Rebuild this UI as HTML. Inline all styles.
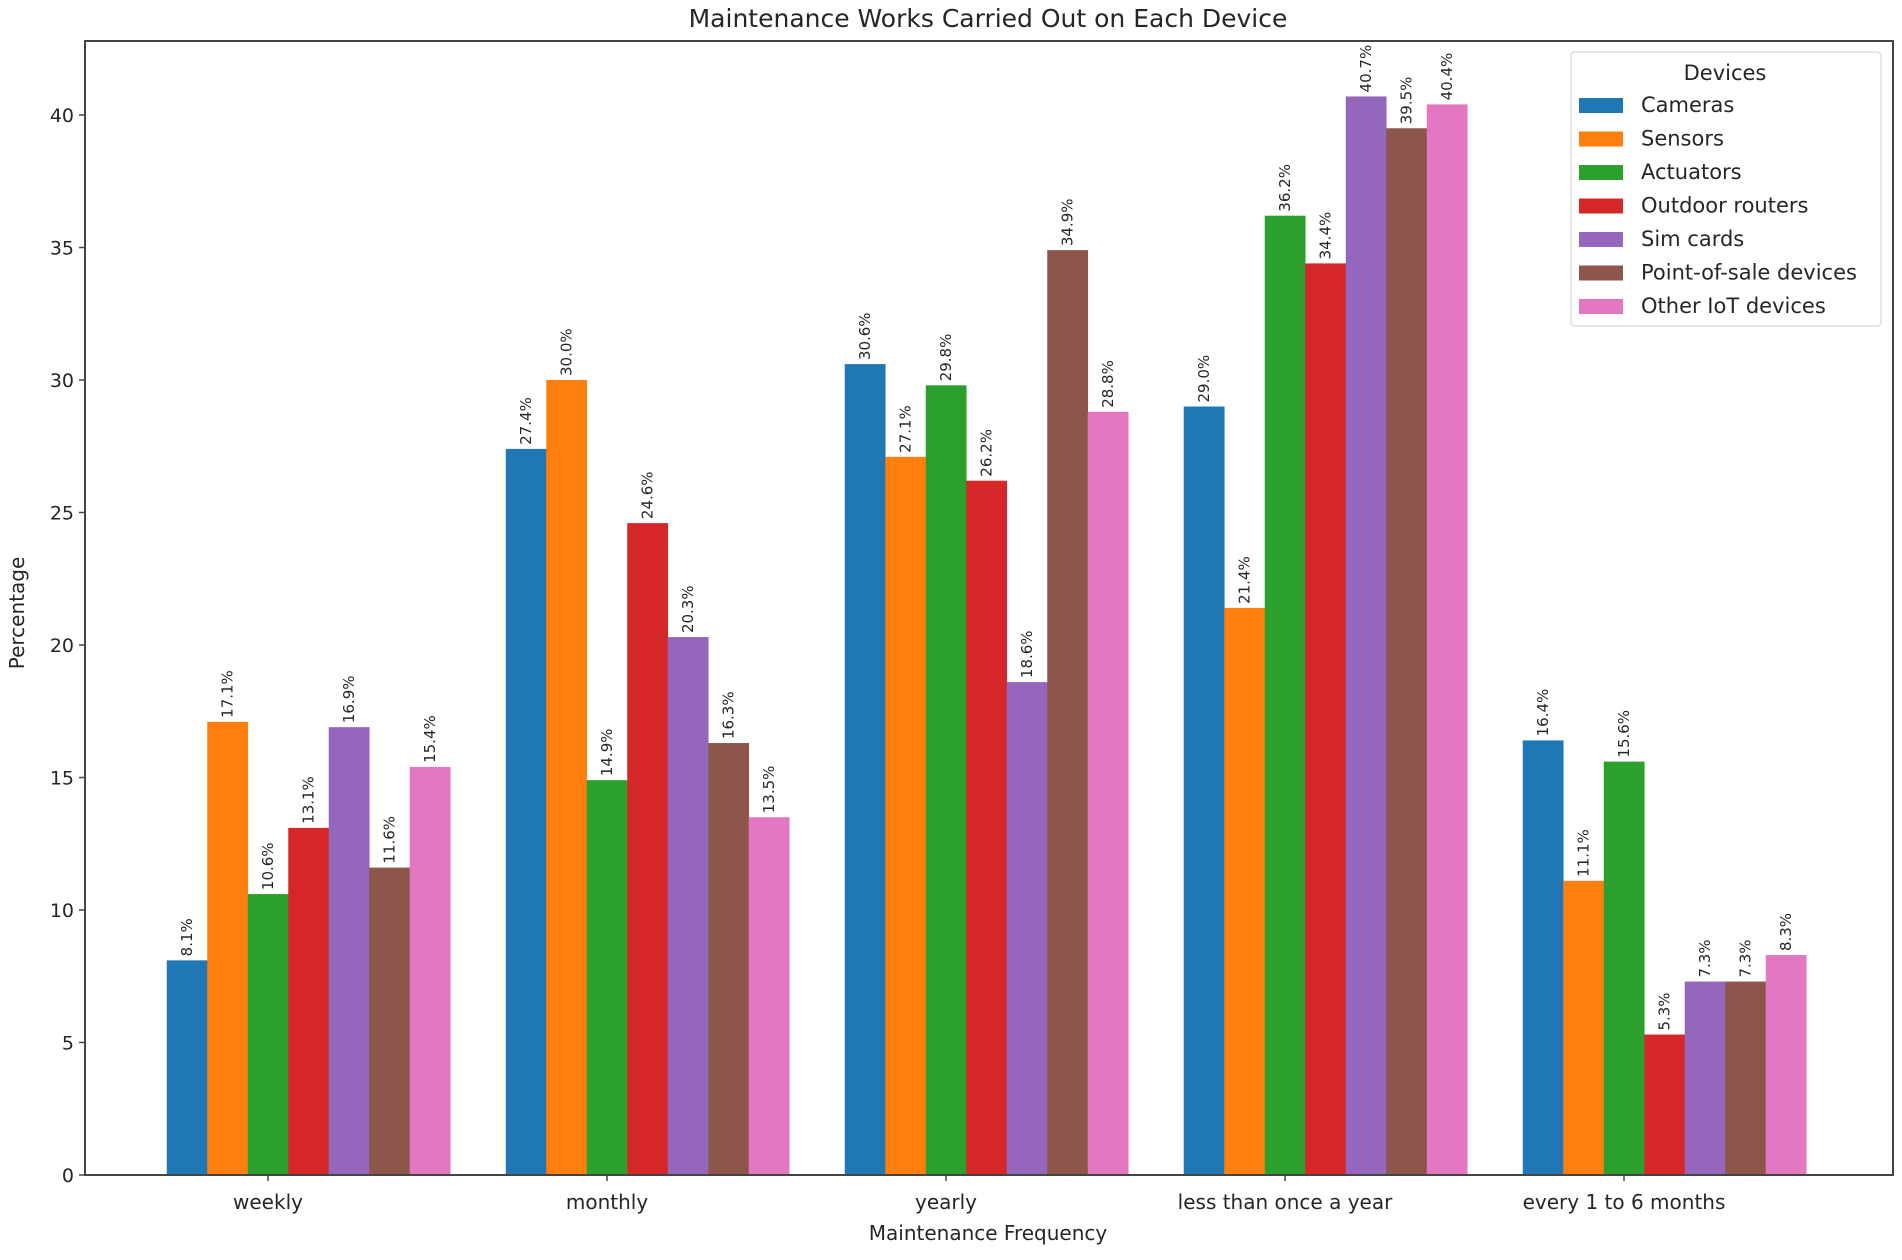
<!DOCTYPE html>
<html><head><meta charset="utf-8"><style>
html,body{margin:0;padding:0;background:#fff;}
svg text{font-family:"DejaVu Sans","Liberation Sans",sans-serif;fill:#262626;}
</style></head><body>
<svg id="chart" width="1902" height="1255" viewBox="0 0 1902 1255" xmlns="http://www.w3.org/2000/svg">
<text x="988" y="27" font-size="25" text-anchor="middle">Maintenance Works Carried Out on Each Device</text>
<g id="bars"></g>
<g id="labels"></g>
<g id="yaxis"></g>
<g id="xaxis"></g>
<rect x="85" y="41" width="1808" height="1134" fill="none" stroke="#444" stroke-width="2"/>
<text transform="translate(24,613) rotate(-90)" font-size="20" text-anchor="middle">Percentage</text>
<text x="988" y="1240" font-size="20" text-anchor="middle">Maintenance Frequency</text>
<g id="legend">
<rect x="1571" y="52" width="310" height="274" rx="4" fill="#fff" stroke="#ddd" stroke-width="1.5"/>
<text x="1725" y="80" font-size="21" text-anchor="middle">Devices</text>
</g>
</svg>
<script>
const categories = ["weekly","monthly","yearly","less than once a year","every 1 to 6 months"];
const seriesNames = ["Cameras","Sensors","Actuators","Outdoor routers","Sim cards","Point-of-sale devices","Other IoT devices"];
const cameras = [8.1,27.4,30.6,29.0,16.4];
const sensors = [17.1,30.0,27.1,21.4,11.1];
const actuators = [10.6,14.9,29.8,36.2,15.6];
const routers = [13.1,24.6,26.2,34.4,5.3];
const simCards = [16.9,20.3,18.6,40.7,7.3];
const posDevices = [11.6,16.3,34.9,39.5,7.3];
const otherIot = [15.4,13.5,28.8,40.4,8.3];
const yTicks = [0,5,10,15,20,25,30,35,40];
const series = [cameras,sensors,actuators,routers,simCards,posDevices,otherIot];
const colors = ["#1f77b4","#ff7f0e","#2ca02c","#d62728","#9467bd","#8c564b","#e377c2"];
const NS="http://www.w3.org/2000/svg";
const y0=1175, pxPerUnit=26.5;
function yScale(v){return y0 - v*pxPerUnit;}
const catStart=268, catStep=339, barW=40.5;
function xScale(i){return catStart + i*catStep;}
function mk(tag,attrs,parent){const e=document.createElementNS(NS,tag);for(const k in attrs)e.setAttribute(k,attrs[k]);parent.appendChild(e);return e;}
const gb=document.getElementById('bars'), gl=document.getElementById('labels');
series.forEach((vals,j)=>{
  vals.forEach((v,i)=>{
    const x=xScale(i)+(j-2.5)*barW;
    const r=mk('rect',{x:x,y:yScale(v),width:barW+0.3,height:y0-yScale(v),fill:colors[j]},gb);
    
    
    const cx=x+barW/2+5, cy=yScale(v)-4;
    const t=mk('text',{transform:`translate(${cx},${cy}) rotate(-90)`,'font-size':15},gl);
    
    
    t.textContent=v.toFixed(1)+'%';
  });
});
const gy=document.getElementById('yaxis');
yTicks.forEach(t=>{
  const y=yScale(t);
  const l=mk('line',{x1:79,x2:85,y1:y,y2:y,stroke:'#444','stroke-width':1.5},gy);
  
  
  const tx=mk('text',{x:74,y:y+7,'font-size':19,'text-anchor':'end'},gy);
  
  
  tx.textContent=t;
});
const gx=document.getElementById('xaxis');
categories.forEach((c,i)=>{
  const x=xScale(i);
  const l=mk('line',{x1:x,x2:x,y1:1175,y2:1181,stroke:'#444','stroke-width':1.5},gx);
  
  
  const tx=mk('text',{x:x,y:1209,'font-size':20,'text-anchor':'middle'},gx);
  
  
  tx.textContent=c;
});
const lg=document.getElementById('legend');
seriesNames.forEach((n,j)=>{
  const y=105+j*33.5;
  const r=mk('rect',{x:1579,y:y-7,width:44,height:15,fill:colors[j]},lg);
  
  
  const t=mk('text',{x:1641,y:y+7,'font-size':21},lg);
  
  
  t.textContent=n;
});
</script>
</body></html>
